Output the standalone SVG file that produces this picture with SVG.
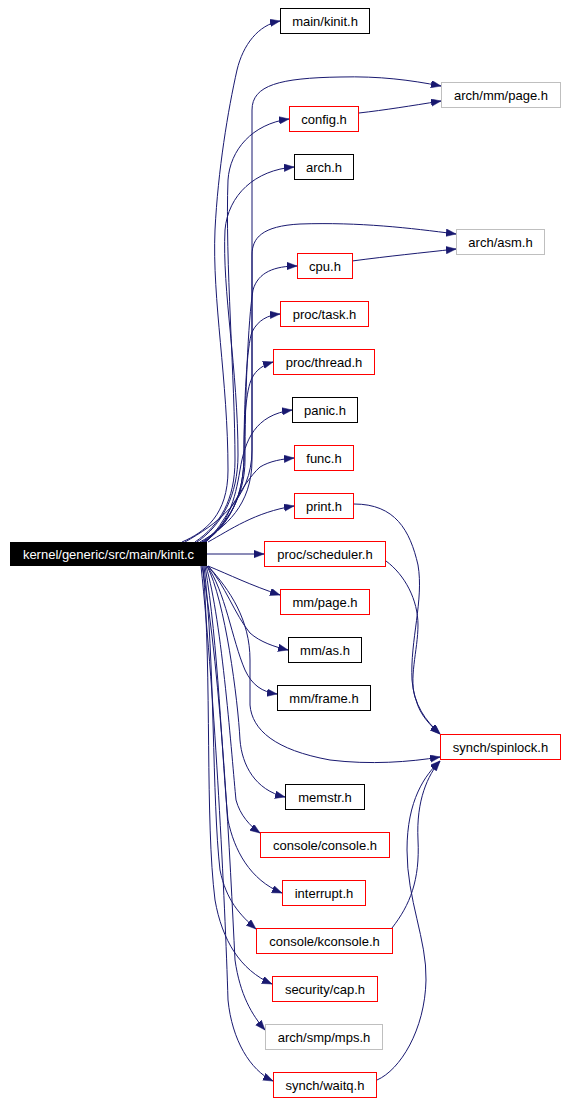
<svg xmlns="http://www.w3.org/2000/svg" width="567" height="1103" viewBox="0 0 567 1103">
<style>
.n rect{fill:#fff;stroke-width:1}
.k rect{stroke:#000}
.r rect{stroke:#f00}
.g rect{stroke:#bfbfbf}
text{font-family:"Liberation Sans",Arial,Helvetica,sans-serif;font-size:13px;text-anchor:middle;fill:#000}
#src text{fill:#fff}
.e path{fill:none;stroke:#191970;stroke-width:1;marker-end:url(#ah)}
</style>
<defs>
<marker id="ah" markerUnits="userSpaceOnUse" markerWidth="11" markerHeight="8" refX="10" refY="3.75" orient="auto">
<path d="M0,0 L10,3.75 L0,7.5 z" fill="#191970" stroke="#191970" stroke-width="0.5"/>
</marker>
</defs>
<rect width="567" height="1103" fill="#fff"/>
<g class="e" id="edges">
<path d="M182,542 C205,532 228,515 228,470 C228,380 212,300 215,230 C218,170 228,110 237,70 C243,45 258,25 280,21"/>
<path d="M185,542 C215,525 252,500 252,450 L252,110 C252,85 280,78 340,77 C380,76 410,80 441,86"/>
<path d="M195,542 C220,525 235,500 235,460 C235,380 225,260 228,180 C230,150 252,124 289,119"/>
<path d="M197,542 C222,525 238,495 238,455 C238,370 222,290 225,230 C228,195 255,170 294,167"/>
<path d="M200,542 C225,528 252,505 252,460 L252,255 C252,238 262,226 300,224 C360,222 410,228 456,234"/>
<path d="M202,542 C228,525 245,495 245,460 C245,400 248,320 253,290 C258,272 275,266 297,266"/>
<path d="M203,542 C230,525 244,495 244,455 C244,400 247,345 252,332 C258,320 268,315 280,314"/>
<path d="M204,542 C230,525 244,495 244,455 C244,420 246,390 252,378 C256,370 263,365 273,362"/>
<path d="M205,542 C228,525 235,500 240,470 C245,440 255,415 292,410"/>
<path d="M206,542 C225,525 240,485 260,467 C270,461 282,459 294,458"/>
<path d="M208,542 C230,530 255,512 294,506"/>
<path d="M207,554 L264,554"/>
<path d="M208,566 C230,575 250,585 280,595"/>
<path d="M208,566 C225,585 235,615 250,633 C260,642 275,647 288,650"/>
<path d="M207,566 C225,590 232,640 245,670 C252,685 262,692 277,694"/>
<path d="M208,566 C230,590 250,620 250,660 L250,705 C252,730 275,750 330,760 C370,765 410,762 440,757"/>
<path d="M207,566 C225,600 238,700 240,740 C242,765 255,790 285,797"/>
<path d="M206,566 C222,620 232,760 236,800 C240,815 250,826 260,833"/>
<path d="M205,566 C218,640 222,760 228,820 C234,850 250,880 282,893"/>
<path d="M204,566 C215,660 212,800 220,870 C226,900 240,915 256,929"/>
<path d="M203,566 C212,680 205,820 215,900 C222,940 240,970 272,984"/>
<path d="M202,566 C222,680 230,860 235,960 C240,995 252,1015 265,1030"/>
<path d="M201,566 C215,700 225,900 228,1000 C232,1040 250,1070 273,1081"/>
<path d="M359,113 C385,110 410,106 441,101"/>
<path d="M352,261 C390,256 420,253 456,249"/>
<path d="M354,504 C395,504 410,530 418,565 C424,600 410,640 412,680 C414,705 425,720 440,734"/>
<path d="M386,561 C405,575 418,600 418,625 C418,650 408,680 416,700 C420,715 430,725 440,734"/>
<path d="M392,928 C410,905 420,880 418,840 C416,800 428,775 440,761"/>
<path d="M377,1080 C400,1070 425,1030 426,980 C427,940 407,900 407,850 C407,800 425,775 440,761"/>
</g>
<g id="src"><rect x="10" y="542" width="197" height="24" fill="#000"/><text x="108.5" y="558.5">kernel/generic/src/main/kinit.c</text></g>
<g id="n1" class="n k"><rect x="280.5" y="8.5" width="89" height="25"/><text x="325" y="25.5">main/kinit.h</text></g>
<g id="n2" class="n g"><rect x="441.5" y="82.5" width="119" height="25"/><text x="501" y="99.5">arch/mm/page.h</text></g>
<g id="n3" class="n r"><rect x="289.5" y="106.5" width="69" height="25"/><text x="324" y="123.5">config.h</text></g>
<g id="n4" class="n k"><rect x="294.5" y="154.5" width="59" height="25"/><text x="324" y="171.5">arch.h</text></g>
<g id="n5" class="n g"><rect x="456.5" y="229.5" width="88" height="25"/><text x="500.5" y="246.5">arch/asm.h</text></g>
<g id="n6" class="n r"><rect x="297.5" y="253.5" width="55" height="25"/><text x="325" y="270.5">cpu.h</text></g>
<g id="n7" class="n r"><rect x="280.5" y="301.5" width="88" height="25"/><text x="324.5" y="318.5">proc/task.h</text></g>
<g id="n8" class="n r"><rect x="273.5" y="349.5" width="101" height="25"/><text x="324" y="366.5">proc/thread.h</text></g>
<g id="n9" class="n k"><rect x="292.5" y="397.5" width="65" height="25"/><text x="325" y="414.5">panic.h</text></g>
<g id="n10" class="n r"><rect x="294.5" y="445.5" width="59" height="25"/><text x="324" y="462.5">func.h</text></g>
<g id="n11" class="n r"><rect x="294.5" y="493.5" width="59" height="25"/><text x="324" y="510.5">print.h</text></g>
<g id="n12" class="n r"><rect x="264.5" y="541.5" width="121" height="25"/><text x="325" y="558.5">proc/scheduler.h</text></g>
<g id="n13" class="n r"><rect x="280.5" y="589.5" width="89" height="25"/><text x="325" y="606.5">mm/page.h</text></g>
<g id="n14" class="n k"><rect x="288.5" y="637.5" width="73" height="25"/><text x="325" y="654.5">mm/as.h</text></g>
<g id="n15" class="n k"><rect x="277.5" y="685.5" width="93" height="25"/><text x="324" y="702.5">mm/frame.h</text></g>
<g id="n16" class="n r"><rect x="440.5" y="734.5" width="120" height="25"/><text x="500.5" y="751.5">synch/spinlock.h</text></g>
<g id="n17" class="n k"><rect x="285.5" y="784.5" width="79" height="25"/><text x="325" y="801.5">memstr.h</text></g>
<g id="n18" class="n r"><rect x="260.5" y="832.5" width="129" height="25"/><text x="325" y="849.5">console/console.h</text></g>
<g id="n19" class="n r"><rect x="282.5" y="880.5" width="83" height="25"/><text x="324" y="897.5">interrupt.h</text></g>
<g id="n20" class="n r"><rect x="256.5" y="928.5" width="136" height="25"/><text x="324.5" y="945.5">console/kconsole.h</text></g>
<g id="n21" class="n r"><rect x="272.5" y="976.5" width="105" height="25"/><text x="325" y="993.5">security/cap.h</text></g>
<g id="n22" class="n g"><rect x="265.5" y="1024.5" width="117" height="25"/><text x="324" y="1041.5">arch/smp/mps.h</text></g>
<g id="n23" class="n r"><rect x="273.5" y="1072.5" width="103" height="25"/><text x="325" y="1089.5">synch/waitq.h</text></g>
</svg>
